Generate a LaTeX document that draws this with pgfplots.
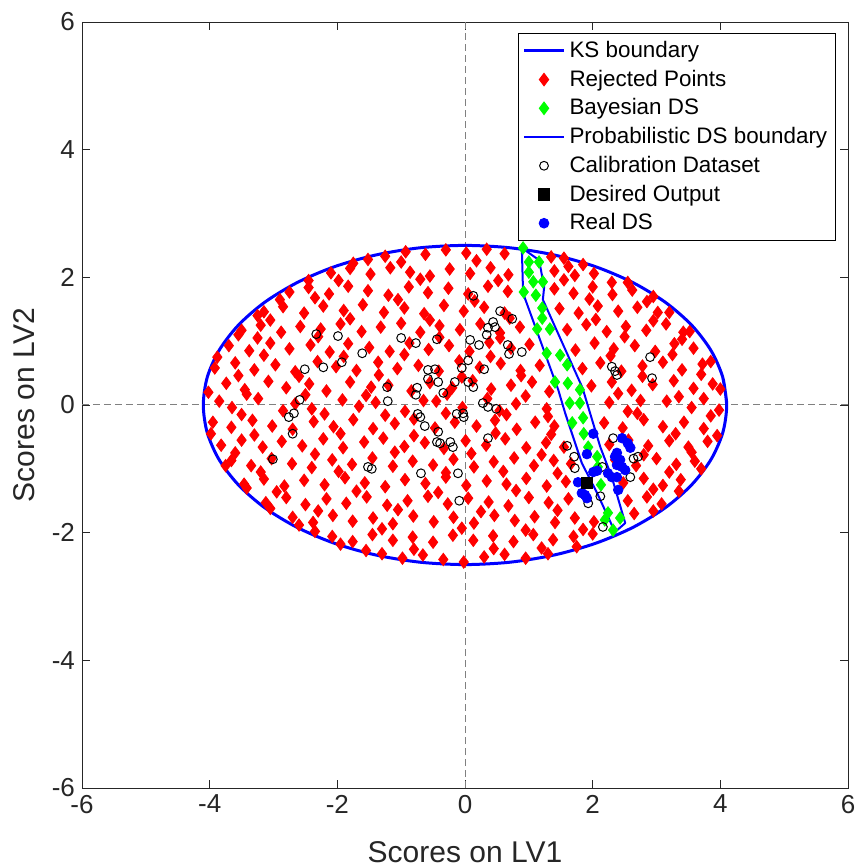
\documentclass[border=0pt]{standalone}
\usepackage{pgfplots}
\pgfplotsset{compat=1.18}
\usepackage{fontspec}
\setmainfont{Liberation Sans}
\usetikzlibrary{calc}
\definecolor{axgray}{rgb}{0.15,0.15,0.15}
\definecolor{zgray}{rgb}{0.5,0.5,0.5}
\begin{document}
\begin{tikzpicture}
\begin{axis}[
 scale only axis, width=383pt, height=383pt,
 xmin=-6,xmax=6,ymin=-6,ymax=6,
 xtick={-6,-4,-2,0,2,4,6}, ytick={-6,-4,-2,0,2,4,6},
 tick align=inside, major tick length=4pt,
 axis line style={axgray}, tick style={axgray},
 ticklabel style={font=\fontsize{13}{15}\selectfont, text=axgray},
 /pgf/number format/assume math mode=true,
 xlabel={Scores on LV1}, ylabel={Scores on LV2},
 label style={font=\fontsize{15}{18}\selectfont, text=axgray},
 xlabel style={at={(axis description cs:0.5,-0.0836)},anchor=center},
 ylabel style={at={(axis description cs:-0.0757,0.5)},anchor=center},
 legend style={at={(0.984,0.986)},anchor=north east, draw=black, line width=0.5pt,
   font=\fontsize{11.2}{13}\selectfont, cells={anchor=west}, inner sep=2pt, row sep=0.75pt},
 legend image code/.code={\draw[mark repeat=2,mark phase=2,#1] plot coordinates {(0pt,0pt)(10pt,0pt)(20pt,0pt)};},
]
% zero lines
\addplot[zgray, line width=0.5pt, dash pattern=on 3.5pt off 2pt, forget plot] coordinates {(0,-6)(0,6)};
\addplot[zgray, line width=0.5pt, dash pattern=on 3.5pt off 2pt, forget plot] coordinates {(-6,0)(6,0)};
% KS boundary
\addplot[blue, line width=1.5pt, smooth, mark=none] coordinates {
(4.100,0.000)(4.038,0.434)(3.853,0.855)(3.551,1.250)(3.141,1.607)(2.635,1.915)(2.050,2.165)(1.402,2.349)(0.712,2.462)(0,2.5)
(-0.712,2.462)(-1.402,2.349)(-2.050,2.165)(-2.635,1.915)(-3.141,1.607)(-3.551,1.250)(-3.853,0.855)(-4.038,0.434)(-4.1,0)
(-4.038,-0.434)(-3.853,-0.855)(-3.551,-1.250)(-3.141,-1.607)(-2.635,-1.915)(-2.050,-2.165)(-1.402,-2.349)(-0.712,-2.462)(0,-2.5)
(0.712,-2.462)(1.402,-2.349)(2.050,-2.165)(2.635,-1.915)(3.141,-1.607)(3.551,-1.250)(3.853,-0.855)(4.038,-0.434)(4.1,0)(4.038,0.434)};
\addlegendentry{KS boundary}
% Rejected points
\addplot[only marks, mark=diamond*, mark size=3.1pt, color=red] coordinates {
(-3.85,0.06)(-3.65,-0.04)(-3.24,0.10)(-2.85,-0.09)(-2.66,0.02)(-2.40,-0.06)(-1.92,0.08)(-1.66,-0.02)(-1.40,0.04)(-0.94,-0.10)
(-0.65,0.07)(-0.45,0.06)(-0.04,-0.04)(0.35,0.10)(0.54,-0.09)(0.80,0.02)(1.28,-0.06)(2.26,0.04)(2.55,-0.10)(2.75,0.07)(3.16,0.06)(3.55,-0.04)(3.74,0.10)(3.98,-0.08)
(-3.74,0.34)(-3.45,0.24)(-3.08,0.37)(-2.80,0.27)(-2.44,0.33)(-2.17,0.22)(-1.80,0.36)(-1.47,0.28)(-1.20,0.31)(-0.84,0.22)(-0.55,0.35)(-0.20,0.27)(0.12,0.38)(0.41,0.25)(0.72,0.31)(1.05,0.36)(1.32,0.21)(1.98,0.30)(2.30,0.36)(2.61,0.23)(2.94,0.32)(3.27,0.38)(3.58,0.26)(3.88,0.33)
(-3.92,0.58)(-3.60,0.66)(-3.30,0.55)(-2.97,0.63)(-2.66,0.52)(-2.31,0.68)(-2.02,0.60)(-1.70,0.54)(-1.36,0.67)(-1.06,0.57)(-0.73,0.62)(-0.41,0.53)(-0.09,0.69)(0.23,0.59)(0.56,0.65)(0.87,0.54)(1.17,0.62)(1.84,0.57)(2.12,0.66)(2.45,0.53)(2.78,0.61)(3.10,0.67)(3.40,0.55)(3.72,0.64)
(-3.70,0.93)(-3.38,0.85)(-3.05,0.97)(-2.75,0.88)(-2.42,0.94)(-2.12,0.83)(-1.83,0.96)(-1.50,0.90)(-1.18,0.84)(-0.87,0.97)(-0.57,0.87)(-0.25,0.93)(0.07,0.84)(0.38,0.98)(0.72,0.89)(1.01,0.95)(1.73,0.86)(2.03,0.97)(2.33,0.88)(2.66,0.93)(2.98,0.84)(3.28,0.96)(3.58,0.89)
(-3.50,1.17)(-3.20,1.25)(-2.88,1.14)(-2.58,1.23)(-2.26,1.19)(-1.95,1.27)(-1.62,1.15)(-1.32,1.22)(-1.00,1.28)(-0.70,1.14)(-0.40,1.24)(-0.08,1.18)(0.24,1.27)(0.55,1.13)(0.86,1.22)(1.60,1.18)(1.90,1.26)(2.22,1.15)(2.52,1.23)(2.84,1.17)(3.15,1.27)(3.42,1.14)
(-3.15,1.46)(-2.85,1.54)(-2.52,1.44)(-2.22,1.55)(-1.90,1.48)(-1.60,1.57)(-1.27,1.45)(-0.95,1.52)(-0.64,1.43)(-0.33,1.56)(-0.02,1.47)(0.30,1.53)(0.62,1.44)(1.48,1.51)(1.78,1.44)(2.08,1.55)(2.40,1.47)(2.70,1.53)(3.02,1.45)
(-2.75,1.77)(-2.45,1.84)(-2.13,1.74)(-1.83,1.86)(-1.52,1.79)(-1.20,1.72)(-0.88,1.85)(-0.58,1.76)(-0.26,1.83)(0.05,1.74)(0.36,1.86)(0.67,1.78)(1.40,1.82)(1.70,1.75)(2.00,1.85)(2.31,1.73)(2.62,1.80)
(-2.10,2.07)(-1.80,2.14)(-1.48,2.05)(-1.17,2.15)(-0.86,2.08)(-0.55,2.02)(-0.24,2.13)(0.08,2.06)(0.40,2.15)(0.68,2.04)(1.40,2.10)(1.72,2.03)(2.02,2.06)
(-1.25,2.33)(-0.93,2.40)(-0.62,2.36)(-0.30,2.43)(0.02,2.38)(0.34,2.44)(0.62,2.37)(1.35,2.32)
(-3.95,-0.27)(-3.66,-0.35)(-3.33,-0.24)(-3.02,-0.33)(-2.70,-0.38)(-2.37,-0.26)(-2.06,-0.34)(-1.75,-0.23)(-1.44,-0.37)(-1.10,-0.29)(-0.80,-0.22)(-0.47,-0.36)(-0.16,-0.27)(0.18,-0.33)(0.47,-0.24)(0.81,-0.38)(1.10,-0.27)(1.40,-0.33)(2.18,-0.28)(2.47,-0.36)(2.80,-0.23)(3.10,-0.34)(3.43,-0.27)(3.74,-0.37)
(-3.82,-0.63)(-3.50,-0.55)(-3.17,-0.66)(-2.87,-0.57)(-2.55,-0.64)(-2.22,-0.53)(-1.91,-0.67)(-1.58,-0.58)(-1.28,-0.52)(-0.95,-0.65)(-0.63,-0.59)(-0.33,-0.68)(0.01,-0.56)(0.33,-0.63)(0.63,-0.53)(0.96,-0.67)(1.27,-0.59)(1.55,-0.66)(2.26,-0.62)(2.56,-0.55)(2.87,-0.64)(3.20,-0.56)(3.50,-0.66)(3.80,-0.57)
(-3.66,-0.87)(-3.35,-0.95)(-3.03,-0.84)(-2.71,-0.92)(-2.40,-0.98)(-2.08,-0.86)(-1.77,-0.93)(-1.45,-0.83)(-1.13,-0.96)(-0.82,-0.88)(-0.50,-0.94)(-0.18,-0.85)(0.14,-0.97)(0.45,-0.89)(0.77,-0.83)(1.08,-0.95)(1.39,-0.87)(1.66,-0.92)(2.35,-0.86)(2.68,-0.95)(3.00,-0.84)(3.31,-0.93)(3.60,-0.88)
(-3.46,-1.24)(-3.15,-1.16)(-2.83,-1.27)(-2.52,-1.18)(-2.20,-1.25)(-1.88,-1.14)(-1.57,-1.22)(-1.25,-1.28)(-0.94,-1.17)(-0.62,-1.23)(-0.30,-1.13)(0.02,-1.26)(0.34,-1.19)(0.65,-1.24)(0.96,-1.15)(1.28,-1.27)(1.58,-1.20)(2.48,-1.22)(2.80,-1.15)(3.10,-1.26)(3.38,-1.17)
(-3.12,-1.53)(-2.80,-1.45)(-2.50,-1.56)(-2.17,-1.47)(-1.86,-1.54)(-1.54,-1.44)(-1.22,-1.57)(-0.90,-1.50)(-0.58,-1.43)(-0.27,-1.55)(0.05,-1.46)(0.37,-1.52)(0.68,-1.58)(1.00,-1.45)(1.31,-1.53)(1.62,-1.47)(2.55,-1.50)(2.85,-1.44)(3.08,-1.55)
(-2.70,-1.76)(-2.38,-1.84)(-2.07,-1.73)(-1.76,-1.82)(-1.44,-1.77)(-1.13,-1.86)(-0.81,-1.74)(-0.49,-1.83)(-0.18,-1.76)(0.14,-1.85)(0.46,-1.73)(0.78,-1.81)(1.09,-1.75)(1.41,-1.84)(1.72,-1.77)(2.02,-1.83)(2.65,-1.70)
(-2.08,-2.06)(-1.76,-2.14)(-1.45,-2.03)(-1.13,-2.12)(-0.82,-2.07)(-0.50,-2.15)(-0.19,-2.04)(0.13,-2.12)(0.44,-2.05)(0.76,-2.14)(1.07,-2.03)(1.38,-2.11)(1.70,-2.06)(2.00,-2.02)
(-1.30,-2.33)(-0.98,-2.40)(-0.66,-2.35)(-0.34,-2.42)(-0.02,-2.46)(0.30,-2.38)(0.62,-2.34)(0.95,-2.40)(1.30,-2.33)
(-4.02,0.20)(-3.98,-0.45)(-3.88,0.75)(-3.75,-0.95)(-3.55,1.10)(-3.42,-1.30)(-3.25,1.40)(-3.05,-1.62)(-2.90,1.65)(-2.60,-1.88)(-2.45,1.95)(-1.95,-2.18)(-1.75,2.22)(-1.55,-2.28)(-1.52,2.28)
(4.00,0.25)(3.95,-0.48)(3.85,0.68)(3.70,-1.00)(3.52,1.15)(3.35,-1.35)(3.20,1.45)(2.95,1.70)(2.95,-1.66)(2.55,1.92)(1.85,2.20)(1.75,-2.22)(1.55,2.30)
(-3.42,0.17)(-2.50,0.16)(-1.55,0.15)(-0.28,0.17)(0.95,0.14)(2.40,0.18)(3.35,0.13)
(-3.55,0.46)(-2.60,0.45)(-1.35,0.47)(-0.05,0.44)(0.88,0.46)(2.78,0.45)(3.70,0.48)
(-3.15,0.78)(-1.90,0.76)(-0.95,0.79)(0.40,0.76)(2.28,0.77)(3.25,0.79)
(-3.25,1.05)(-2.30,1.07)(-0.40,1.06)(0.55,1.05)(2.50,1.07)(3.40,1.03)
(-3.05,1.33)(-1.80,1.35)(-0.55,1.33)(0.70,1.36)(2.05,1.34)(2.95,1.32)
(-2.35,1.68)(-1.05,1.65)(0.15,1.63)(1.95,1.66)(2.85,1.62)
(-1.98,1.95)(-0.70,1.97)(0.52,1.95)(1.55,1.96)(2.30,1.92)
(-1.00,2.24)(0.18,2.26)(1.62,2.17)
(-3.50,-0.15)(-2.20,-0.14)(-1.25,-0.16)(-0.30,-0.13)(0.65,-0.15)(1.30,-0.18)(2.70,-0.13)(3.85,-0.17)
(-3.30,-0.47)(-1.95,-0.45)(-0.80,-0.48)(0.48,-0.44)(1.35,-0.46)(3.30,-0.45)
(-3.60,-0.75)(-2.35,-0.77)(-1.10,-0.74)(0.10,-0.76)(1.20,-0.78)(2.80,-0.78)(3.55,-0.74)
(-3.20,-1.05)(-1.98,-1.04)(-0.30,-1.06)(0.60,-1.04)(1.45,-1.07)(3.20,-1.05)
(-2.95,-1.36)(-1.70,-1.35)(-0.42,-1.37)(0.80,-1.34)(2.95,-1.32)
(-2.30,-1.66)(-1.05,-1.64)(0.25,-1.67)(1.45,-1.65)
(-2.35,-1.98)(-1.30,-1.94)(-0.05,-1.93)(0.95,-1.96)(1.85,-1.95)
(-0.80,-2.26)(0.45,-2.25)(1.20,-2.24)};
\addlegendentry{Rejected Points}
% Bayesian DS
\addplot[only marks, mark=diamond*, mark size=3.1pt, color=green] coordinates {
(0.91,2.46)(1.00,2.24)(1.16,2.24)(1.00,2.08)(1.07,1.93)(1.22,1.93)(0.92,1.77)(1.11,1.72)(1.21,1.52)(1.21,1.36)(1.13,1.19)(1.33,1.19)
(1.28,0.81)(1.49,0.78)(1.41,0.36)(1.60,0.63)(1.61,0.34)(1.80,0.24)(1.64,0.03)(1.80,0.03)(1.85,-0.20)(1.68,-0.28)(1.86,-0.45)(1.93,-0.66)
(2.07,-0.81)(2.08,-0.97)(2.13,-1.25)(2.24,-1.69)(2.19,-1.80)(2.43,-1.77)(2.32,-1.96)};
\addlegendentry{Bayesian DS}
% Probabilistic DS boundary
\addplot[blue, line width=1pt, line join=round, mark=none] coordinates {
(0.89,2.46)(1.16,2.27)(1.24,1.85)(1.22,1.65)(1.84,0.27)(1.93,-0.03)(2.12,-0.66)(2.30,-1.13)(2.51,-1.85)(2.35,-1.99)
(2.07,-1.38)(1.83,-0.91)(1.57,-0.13)(1.46,0.24)(0.91,1.75)(0.89,2.46)};
\addlegendentry{Probabilistic DS boundary}
% Calibration dataset
\addplot[only marks, mark=o, mark size=2.2pt, black, line width=0.5pt] coordinates {
(-2.33,1.11)(-1.99,1.08)(-1.61,0.81)(-1.93,0.67)(-2.22,0.59)(-2.51,0.56)(-2.59,0.08)(-2.68,-0.13)(-2.76,-0.19)(-2.70,-0.45)(-3.01,-0.85)(-1.46,-1.00)(-1.52,-0.97)(-1.22,0.28)(-1.21,0.06)
(0.13,1.71)(0.55,1.47)(0.74,1.35)(0.44,1.30)(0.36,1.21)(0.47,1.22)(0.34,1.10)(0.67,0.94)(0.69,0.80)(0.08,1.02)(0.22,0.94)(0.05,0.70)(-0.05,0.58)(-1.00,1.05)(-0.77,0.97)(-0.44,1.03)
(-0.58,0.55)(-0.47,0.56)(-0.58,0.41)(-0.42,0.36)(-0.34,0.19)(-0.16,0.36)(0.05,0.36)(0.13,0.28)(-0.75,0.27)(-0.77,0.16)(0.30,0.56)(0.28,0.03)(0.36,-0.03)(0.49,-0.06)
(-0.74,-0.14)(-0.70,-0.19)(-0.63,-0.33)(-0.13,-0.14)(-0.02,-0.19)(-0.03,-0.13)(-0.42,-0.42)(-0.44,-0.58)(-0.39,-0.60)(-0.23,-0.58)(-0.19,-0.66)(0.36,-0.52)(-0.69,-1.07)(-0.11,-1.07)(-0.09,-1.50)
(0.89,0.83)(2.90,0.75)(2.93,0.42)(2.30,0.60)(2.35,0.53)(2.38,0.47)
(1.60,-0.64)(1.71,-0.81)(1.72,-0.99)(2.32,-0.52)(2.15,-0.97)(2.71,-0.81)(2.64,-0.84)(2.59,-1.13)(2.12,-1.43)(1.93,-1.54)(2.16,-1.91)};
\addlegendentry{Calibration Dataset}
% Real DS (drawn before the square, legend entry added later)
\addplot[only marks, mark=*, mark size=2.4pt, color=blue, forget plot] coordinates {
(2.01,-0.45)(1.91,-0.77)(2.46,-0.52)(2.55,-0.60)(2.59,-0.67)(2.38,-0.75)(2.35,-0.81)(2.43,-0.86)(2.46,-0.97)(2.51,-1.02)(2.38,-0.94)
(2.01,-1.05)(2.07,-1.03)(2.24,-1.07)(2.30,-1.13)(2.38,-1.13)(2.40,-1.33)(1.77,-1.21)(1.83,-1.38)(1.88,-1.41)(1.91,-1.46)};
% Desired output
\addplot[only marks, mark=square*, mark size=2.8pt, color=black] coordinates {(1.91,-1.22)};
\addlegendentry{Desired Output}
\addlegendimage{only marks, mark=*, mark size=2.4pt, color=blue}
\addlegendentry{Real DS}
\end{axis}
\pgfresetboundingbox
\path ($(current axis.south west)+(-41pt,-39.5pt)$) rectangle ($(current axis.north east)+(5pt,11pt)$);
\end{tikzpicture}
\end{document}
